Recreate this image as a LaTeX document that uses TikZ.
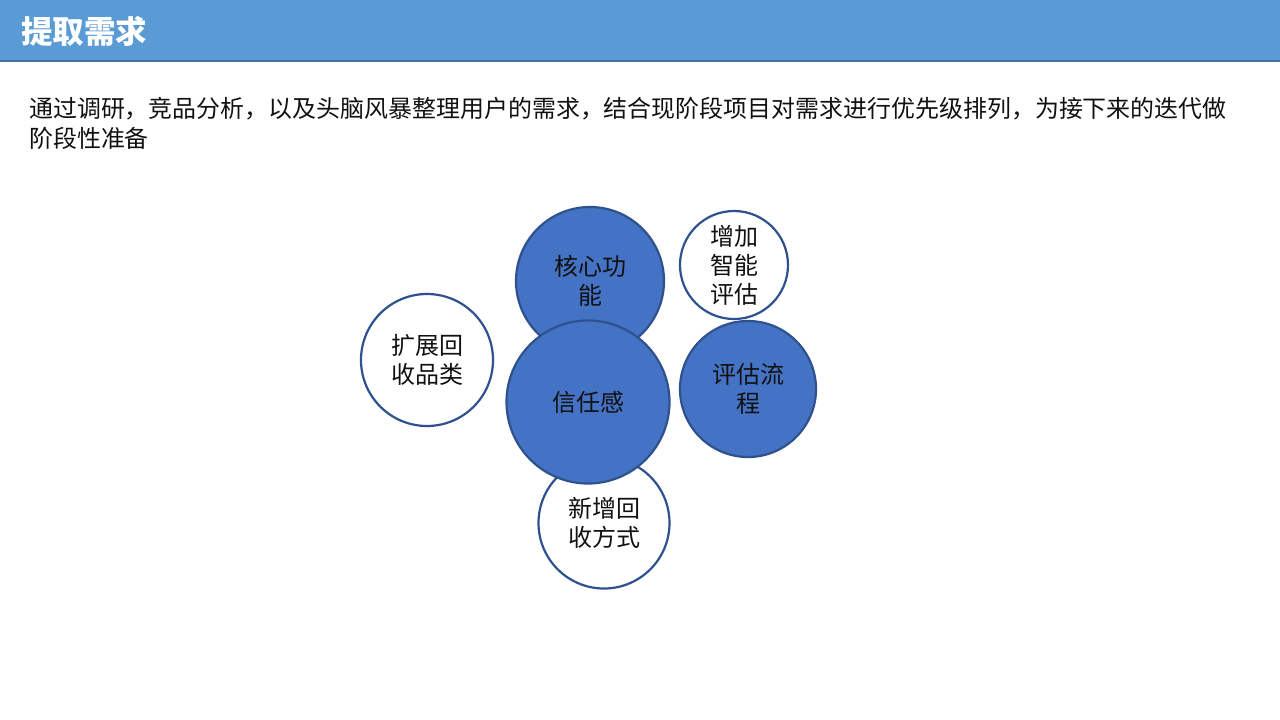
\documentclass[tikz,border=0pt]{standalone}
\usepackage{fontspec}
\setmainfont{Noto Sans CJK SC}
\definecolor{hdr}{HTML}{5B9BD5}
\definecolor{hdrline}{HTML}{41719C}
\definecolor{cblue}{HTML}{4472C4}
\definecolor{cedge}{HTML}{2F528F}
\definecolor{txt}{HTML}{111111}
\tikzset{
  bub/.style={circle, draw=cedge, line width=2.2pt, inner sep=0pt, align=center,
    text=txt, font=\fontsize{24}{29}\selectfont},
  bluebub/.style={bub, fill=cblue},
  whitebub/.style={bub, fill=white},
  bodytext/.style={anchor=west, inner sep=0pt, text=txt, font=\fontsize{23.95}{29}\selectfont}
}
\begin{document}
\begin{tikzpicture}[x=1pt,y=-1pt]
\useasboundingbox (0,0) rectangle (1280,720);
\fill[white] (0,0) rectangle (1280,720);
\fill[hdr] (0,0) rectangle (1280,61);
\draw[hdrline, line width=1.5pt] (0,61) -- (1280,61);
\node[anchor=west, inner sep=0pt, text=white, font=\fontsize{31.5}{36}\selectfont\bfseries] (title) at (21,31) {提取需求};
\node[bodytext] (l1) at (29,109) {通过调研，竞品分析，以及头脑风暴整理用户的需求，结合现阶段项目对需求进行优先级排列，为接下来的迭代做};
\node[bodytext] (l2) at (29,138) {阶段性准备};
% circles
\node[whitebub, minimum size=132pt] (expand) at (427,360) {扩展回\\收品类};
\node[whitebub, minimum size=108pt] (smart) at (734,265) {增加\\智能\\评估};
\node[bluebub, minimum size=136pt] (flow) at (748,389) {评估流\\程};
\node[bluebub, minimum size=148pt] (core) at (590,281) {核心功\\能};
\node[whitebub, minimum size=131pt] (newway) at (604,523) {新增回\\收方式};
\node[bluebub, minimum size=163pt] (trust) at (588,402) {信任感};
\end{tikzpicture}
\end{document}
